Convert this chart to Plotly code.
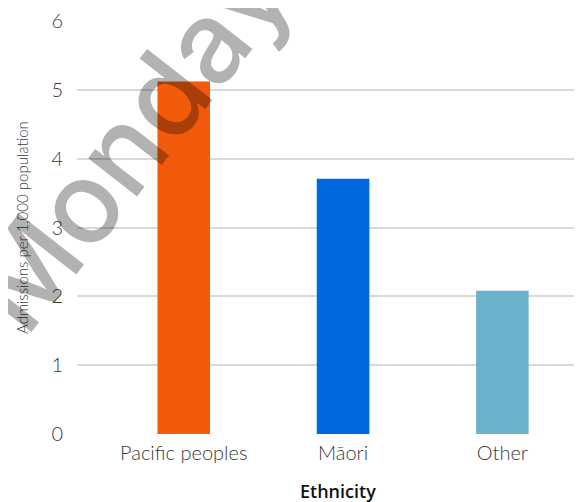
import plotly.graph_objects as go

categories = ["Pacific peoples", "Māori", "Other"]
values = [5.12, 3.71, 2.08]
colors = ["#f25b0c", "#0068df", "#68b3cb"]
y_ticks = [0, 1, 2, 3, 4, 5, 6]

# page body has an 8px margin; figure is offset by that
OFF = 8
W, H = 582 - OFF, 502 - OFF
ml, mr, mt, mb = 77 - OFF, 0, 21 - OFF, 502 - 434
PW, PH = W - ml - mr, H - mt - mb


def px(x):
    return (x - OFF - ml) / PW


def py(y):
    return ((H - mb) - (y - OFF)) / PH


fig = go.Figure(go.Bar(
    x=categories, y=values, marker=dict(color=colors, line=dict(width=0)),
    width=0.33,
))

LIGHT = "Lato"

fig.update_layout(
    width=W, height=H,
    margin=dict(l=ml, r=mr, t=mt, b=mb, pad=0),
    plot_bgcolor="white", paper_bgcolor="white",
    showlegend=False,
    xaxis=dict(range=[-0.67, 2.5], showgrid=False, zeroline=False, showline=False,
               tickfont=dict(family=LIGHT, size=20, color="#3a3a3a", weight=300),
               ticks="outside", ticklen=1, tickcolor="rgba(0,0,0,0)"),
    yaxis=dict(range=[0, 6], tickvals=y_ticks, showgrid=True, gridcolor="#d9d9d9",
               gridwidth=1.5, zeroline=False, showline=False,
               tickfont=dict(family=LIGHT, size=20, color="#3a3a3a", weight=300),
               ticklabelstandoff=13),
    annotations=[
        dict(text="Admissions per 1,000 population", xref="paper", yref="paper",
             x=px(22), y=py(228), textangle=-90, showarrow=False,
             xanchor="center", yanchor="middle",
             font=dict(family=LIGHT, size=15, color="#3a3a3a", weight=300)),
        dict(text="Ethnicity", xref="paper", yref="paper",
             x=px(338), y=py(491),
             showarrow=False, xanchor="center", yanchor="middle",
             font=dict(family="Open Sans", size=18, color="#111111", weight=600)),
        dict(text="Monday", xref="paper", yref="paper",
             x=px(128), y=py(140),
             showarrow=False, xanchor="center", yanchor="middle", textangle=-52,
             font=dict(family="Inter", size=114, color="rgba(0,0,0,0.3)", weight=500)),
    ],
)

fig.write_html("out.html")
